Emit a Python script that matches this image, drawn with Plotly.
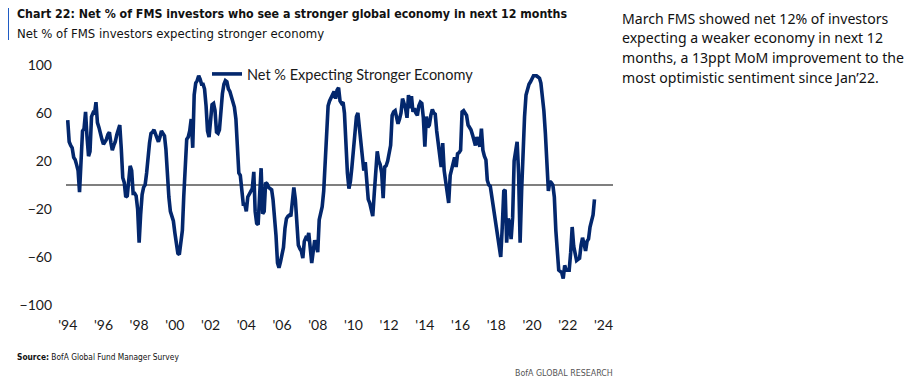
import pandas as pd
import plotly.graph_objects as go

# ---------------- data (monthly, Sep 1994 .. Mar 2024) ----------------
start_month = "1994-09-01"
net_pct = [
    54, 36, 33, 31, 23, 21, 17, 12, -6, 20, 45, 47,
    61, 40, 24, 28, 57, 60, 59, 69, 52, 48, 42, 38,
    34, 36, 38, 42, 44, 35, 29, 33, 36, 42, 46, 50,
    30, 6, 2, -10, -9, 3, 16, 12, -7, -7, -9, -20,
    -48, -25, -8, -2, 0, 10, 24, 35, 43, 44, 46, 43,
    40, 36, 40, 45, 43, 41, 30, 5, -10, -22, -26, -30,
    -40, -52, -57, -58, -45, -38, -10, 12, 38, 40, 45, 55,
    31, 75, 85, 87, 91, 88, 84, 84, 80, 66, 45, 40,
    58, 67, 68, 62, 44, 43, 46, 64, 76, 84, 87, 86,
    80, 78, 73, 71, 65, 55, 35, 10, 8, -7, -16, -16,
    -22, -10, -8, -6, -3, 11, -22, -32, -33, -8, 14, -24,
    -22, 2, 1, -2, -3, -4, -12, -25, -42, -65, -69, -64,
    -57, -52, -36, -28, -26, -25, -26, -10, -2, -12, -30, -50,
    -53, -55, -61, -47, -44, -45, -40, -57, -65, -55, -46, -50,
    -56, -29, -24, -18, -5, 20, 45, 66, 70, 73, 75, 78,
    72, 79, 81, 70, 68, 69, 60, 32, 10, -3, 3, 15,
    29, 45, 57, 60, 48, 30, 24, 12, 19, 0, -12, -15,
    -20, -26, -7, 15, 28, 20, 17, 10, -11, 15, 16, 20,
    27, 33, 58, 61, 62, 55, 51, 55, 60, 72, 68, 64,
    56, 75, 64, 74, 61, 64, 60, 58, 66, 69, 68, 56,
    32, 57, 48, 50, 58, 63, 60, 59, 45, 33, 28, 15,
    35, 12, 3, -5, -15, 8, 12, 17, 23, 15, 26, 27,
    29, 61, 62, 60, 58, 50, 48, 46, 42, 38, 33, 40,
    35, 32, 47, 29, 24, 21, 4, 0, -1, -10, -18, -24,
    -35, -45, -55, -60, -35, -5, -4, -48, -28, -32, -45, -27,
    20, 29, 36, 10, -48, -5, 30, 57, 75, 80, 84, 86,
    88, 91, 91, 91, 90, 89, 85, 74, 62, 43, 22, -5,
    3, 2, 0, -10, -38, -63, -71, -72, -73, -78, -67, -71,
    -71, -71, -56, -35, -51, -60, -63, -62, -61, -50, -44, -49,
    -55, -47, -45, -35, -28, -25, -12,
]
series_name = "Net % Expecting Stronger Economy"
tick_labels = ["'94", "'96", "'98", "'00", "'02", "'04", "'06", "'08",
               "'10", "'12", "'14", "'16", "'18", "'20", "'22", "'24"]
y_ticks = [100, 60, 20, -20, -60, -100]

title_text = "Chart 22: Net % of FMS investors who see a stronger global economy in next 12 months"
subtitle_text = "Net % of FMS investors expecting stronger economy"
side_lines = [
    "March FMS showed net 12% of investors",
    "expecting a weaker economy in next 12",
    "months, a 13ppt MoM improvement to the",
    "most optimistic sentiment since Jan\u201922.",
]
source_text = "<b>Source:</b> BofA Global Fund Manager Survey"
brand_text = "BofA GLOBAL RESEARCH"

# ---------------- figure ----------------
OFF = 8  # page body margin
W, H = 916 - OFF, 383 - OFF
L = 66 - OFF
T = 65 - OFF
R = W - (613 - OFF)
B = H - (305 - OFF)
PW, PH = W - L - R, H - T - B


def px(x):
    return (x - OFF - L) / PW


def py(y):
    return (H - B - (y - OFF)) / PH


dates = pd.date_range(start_month, periods=len(net_pct), freq="MS")
tick_dates = pd.date_range(start_month, periods=len(tick_labels), freq="24MS")

NAVY = "#03276d"
AXFONT = dict(family="Lato, Carlito, Arial", size=14, color="#1a1a1a")

fig = go.Figure()
fig.add_trace(go.Scatter(
    x=dates, y=net_pct, mode="lines", name=series_name,
    line=dict(color=NAVY, width=3.6),
))

fig.update_layout(
    width=W, height=H,
    margin=dict(l=L, r=R, t=T, b=B, pad=0),
    paper_bgcolor="white", plot_bgcolor="white",
    showlegend=True,
    legend=dict(
        x=px(207), y=py(58), xanchor="left", yanchor="top",
        bgcolor="rgba(0,0,0,0)", font=dict(AXFONT, size=14.5),
        itemwidth=30, borderwidth=0,
    ),
    xaxis=dict(
        type="date",
        range=["1994-07-28", "2025-03-15"],
        tickvals=tick_dates, ticktext=tick_labels,
        showgrid=False, zeroline=False, showline=False, ticks="",
        tickfont=AXFONT, ticklabelstandoff=10,
    ),
    yaxis=dict(
        range=[-100, 100], tickvals=y_ticks,
        showgrid=False, showline=False, ticks="",
        zeroline=True, zerolinecolor="#7f7f7f", zerolinewidth=2,
        tickfont=AXFONT, ticklabelstandoff=13,
    ),
)

TFONT = "DejaVu Sans Condensed, Liberation Sans Narrow, sans-serif"
ann = []
ann.append(dict(text="<b>" + title_text + "</b>", x=px(15), y=py(14),
                xanchor="left", yanchor="middle",
                font=dict(family=TFONT, size=12.3, color="#111111")))
ann.append(dict(text=subtitle_text, x=px(15), y=py(33),
                xanchor="left", yanchor="middle",
                font=dict(family=TFONT, size=13, color="#111111")))
for i, line in enumerate(side_lines):
    ann.append(dict(text=line, x=px(620), y=py(18 + i * 19.7),
                    xanchor="left", yanchor="middle",
                    font=dict(family="Noto Sans, Open Sans, sans-serif", size=14.1, color="#111111")))
ann.append(dict(text=source_text, x=px(15), y=py(357),
                xanchor="left", yanchor="middle",
                font=dict(family=TFONT, size=8.3, color="#111111")))
ann.append(dict(text=brand_text, x=px(615), y=py(373),
                xanchor="right", yanchor="middle",
                font=dict(family=TFONT, size=8.8, color="#555555")))
for a in ann:
    a.update(xref="paper", yref="paper", showarrow=False, align="left")
fig.update_layout(annotations=ann)

fig.add_shape(type="rect", xref="paper", yref="paper",
              x0=px(4), x1=px(9), y0=py(5), y1=py(40),
              fillcolor="#1f5bc4", line=dict(width=0))

fig.write_html("out.html")
